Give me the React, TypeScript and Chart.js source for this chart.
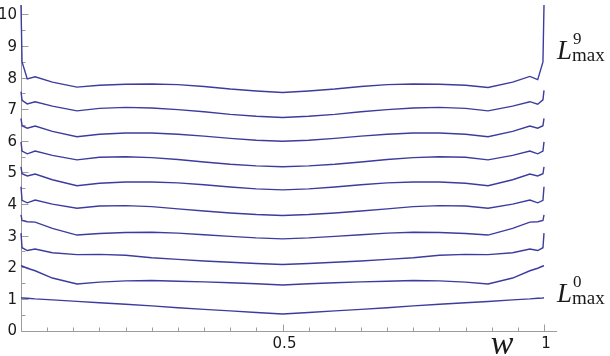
import React, { useEffect, useRef } from "react";
import { Chart, registerables } from "chart.js";

Chart.register(...registerables);

// x positions (w) of the sampled points
const W = [0, 0.002, 0.012, 0.027, 0.06, 0.107, 0.15, 0.2, 0.25, 0.3, 0.35, 0.4, 0.45, 0.5,
  0.55, 0.6, 0.65, 0.7, 0.75, 0.8, 0.85, 0.893, 0.94, 0.973, 0.988, 0.998, 1];

const L9 = [10.3, 8.5, 7.96, 8.03, 7.86, 7.70, 7.76, 7.79, 7.80, 7.78, 7.72, 7.64, 7.58, 7.53,
  7.58, 7.64, 7.72, 7.78, 7.80, 7.79, 7.76, 7.69, 7.86, 8.04, 7.94, 8.5, 10.3];
const L8 = [7.56, 7.28, 7.17, 7.24, 7.10, 6.95, 7.03, 7.06, 7.04, 6.99, 6.92, 6.84, 6.78, 6.74,
  6.78, 6.84, 6.92, 6.99, 7.04, 7.06, 7.03, 6.95, 7.10, 7.24, 7.16, 7.3, 7.6];
const L7 = [6.71, 6.48, 6.40, 6.47, 6.30, 6.13, 6.21, 6.25, 6.25, 6.21, 6.15, 6.08, 6.02, 5.99,
  6.02, 6.08, 6.15, 6.21, 6.25, 6.25, 6.21, 6.13, 6.30, 6.47, 6.40, 6.48, 6.71];
const L6 = [5.97, 5.68, 5.59, 5.68, 5.54, 5.40, 5.48, 5.50, 5.47, 5.41, 5.33, 5.26, 5.21, 5.18,
  5.21, 5.26, 5.33, 5.41, 5.47, 5.50, 5.48, 5.40, 5.54, 5.68, 5.59, 5.68, 5.97];
const L5 = [5.18, 4.96, 4.89, 4.95, 4.77, 4.58, 4.66, 4.70, 4.70, 4.67, 4.61, 4.54, 4.48, 4.45,
  4.48, 4.54, 4.61, 4.67, 4.70, 4.70, 4.66, 4.58, 4.77, 4.95, 4.89, 4.96, 5.18];
const L4 = [4.55, 4.12, 4.04, 4.13, 4.00, 3.87, 3.94, 3.95, 3.92, 3.85, 3.78, 3.72, 3.67, 3.64,
  3.67, 3.72, 3.78, 3.85, 3.92, 3.95, 3.94, 3.87, 4.00, 4.13, 4.04, 4.12, 4.55];
const L3 = [3.66, 3.48, 3.44, 3.43, 3.23, 3.02, 3.07, 3.10, 3.11, 3.08, 3.03, 2.98, 2.93, 2.90,
  2.93, 2.98, 3.03, 3.08, 3.11, 3.10, 3.07, 3.02, 3.23, 3.43, 3.44, 3.48, 3.66];
const L2 = [3.08, 2.62, 2.53, 2.58, 2.46, 2.40, 2.41, 2.38, 2.30, 2.25, 2.20, 2.16, 2.12, 2.09,
  2.12, 2.16, 2.20, 2.25, 2.30, 2.38, 2.41, 2.40, 2.46, 2.58, 2.53, 2.62, 3.08];
const L1 = [2.05, 2.04, 1.97, 1.89, 1.66, 1.47, 1.53, 1.57, 1.58, 1.56, 1.54, 1.51, 1.48, 1.44,
  1.48, 1.51, 1.54, 1.56, 1.58, 1.57, 1.53, 1.47, 1.66, 1.89, 1.97, 2.04, 2.05];
const L0 = [1.03, 1.03, 1.02, 1.0, 0.97, 0.92, 0.88, 0.83, 0.78, 0.72, 0.67, 0.62, 0.57, 0.52,
  0.57, 0.62, 0.67, 0.72, 0.78, 0.83, 0.88, 0.92, 0.97, 1.0, 1.02, 1.03, 1.04];

const SERIES = [L0, L1, L2, L3, L4, L5, L6, L7, L8, L9];

const Y_LABELS = ["0", "1", "2", "3", "4", "5", "6", "7", "8", "9", "10"];
const Y_MINOR = [0.5, 1.5, 2.5, 3.5, 4.5, 5.5, 6.5, 7.5, 8.5, 9.5];
const X_MINOR = [0.05, 0.1, 0.15, 0.2, 0.25, 0.3, 0.35, 0.4, 0.45, 0.55, 0.6, 0.65, 0.7, 0.75, 0.8, 0.85, 0.9, 0.95];
const X_MAJOR = [0.5, 1];
const X_LABELS = ["0.5", "1"];

const LINE = "#3c3c9e";
const AXIS = "#9c9c9c";
const TEXT = "#1a1a1a";

const axesPlugin = {
  id: "mmaAxes",
  beforeDatasetsDraw(chart: any) {
    const ctx = chart.ctx;
    const xs = chart.scales.x;
    const ys = chart.scales.y;
    const x0 = Math.round(xs.getPixelForValue(0)) + 0.5;
    const y0 = Math.round(ys.getPixelForValue(0)) + 0.5;
    ctx.save();
    ctx.strokeStyle = AXIS;
    ctx.lineWidth = 1;
    ctx.beginPath();
    ctx.moveTo(x0, y0);
    ctx.lineTo(xs.getPixelForValue(1.025), y0);
    ctx.moveTo(x0, y0);
    ctx.lineTo(x0, ys.getPixelForValue(10.3));
    X_MINOR.forEach((v) => {
      const p = Math.round(xs.getPixelForValue(v)) + 0.5;
      ctx.moveTo(p, y0);
      ctx.lineTo(p, y0 - 4);
    });
    X_MAJOR.forEach((v) => {
      const p = Math.round(xs.getPixelForValue(v)) + 0.5;
      ctx.moveTo(p, y0);
      ctx.lineTo(p, y0 - 7);
    });
    Y_MINOR.forEach((v) => {
      const p = Math.round(ys.getPixelForValue(v)) + 0.5;
      ctx.moveTo(x0, p);
      ctx.lineTo(x0 + 4, p);
    });
    Y_LABELS.forEach((_, i) => {
      const p = Math.round(ys.getPixelForValue(i)) + 0.5;
      ctx.moveTo(x0, p);
      ctx.lineTo(x0 + 7, p);
    });
    ctx.stroke();
    ctx.restore();
  },
  afterDatasetsDraw(chart: any) {
    const ctx = chart.ctx;
    const xs = chart.scales.x;
    const ys = chart.scales.y;
    const x0 = xs.getPixelForValue(0);
    const y0 = ys.getPixelForValue(0);
    ctx.save();
    ctx.fillStyle = TEXT;
    ctx.font = "15px 'DejaVu Sans'";
    ctx.textAlign = "right";
    ctx.textBaseline = "middle";
    Y_LABELS.forEach((t, i) => {
      ctx.fillText(t, x0 - 4, ys.getPixelForValue(i) + 1);
    });
    ctx.textAlign = "center";
    X_MAJOR.forEach((v, i) => {
      ctx.fillText(X_LABELS[i], xs.getPixelForValue(v) + 2, y0 + 14);
    });
    ctx.font = "italic 34px 'Liberation Serif'";
    ctx.textBaseline = "alphabetic";
    ctx.fillText("w", xs.getPixelForValue(0.92), y0 + 23);
    const drawL = (sup: string, baseY: number) => {
      const lx = xs.getPixelForValue(1) + 13;
      ctx.textAlign = "left";
      ctx.font = "italic 27px 'Liberation Serif'";
      ctx.fillText("L", lx, baseY);
      ctx.font = "17px 'Liberation Serif'";
      ctx.fillText(sup, lx + 16, baseY - 15);
      ctx.font = "19px 'Liberation Serif'";
      ctx.fillText("max", lx + 15, baseY + 2);
    };
    drawL("9", ys.getPixelForValue(8.6));
    drawL("0", ys.getPixelForValue(0.9));
    ctx.restore();
  },
};

export default function App() {
  const ref = useRef<HTMLCanvasElement>(null);
  useEffect(() => {
    document.body.style.margin = "0";
    const chart = new Chart(ref.current as HTMLCanvasElement, {
      type: "line",
      data: {
        datasets: SERIES.map((s, k) => ({
          label: "L" + k,
          data: W.map((w, i) => ({ x: w, y: s[i] })),
          borderColor: LINE,
          borderWidth: 1.4,
          pointRadius: 0,
          fill: false,
          tension: 0,
          clip: false as any,
        })),
      },
      options: {
        responsive: false,
        animation: false,
        layout: { padding: { left: 21, right: 66, top: 5, bottom: 25.5 } },
        scales: {
          x: { type: "linear", min: 0, max: 1, display: false },
          y: { type: "linear", min: 0, max: 10.3, display: false },
        },
        plugins: { legend: { display: false }, tooltip: { enabled: false } },
      },
      plugins: [axesPlugin],
    } as any);
    return () => chart.destroy();
  }, []);
  return (
    <div style={{ width: 610, height: 356, background: "#fff" }}>
      <canvas ref={ref} width={610} height={356} style={{ display: "block" }} />
    </div>
  );
}
